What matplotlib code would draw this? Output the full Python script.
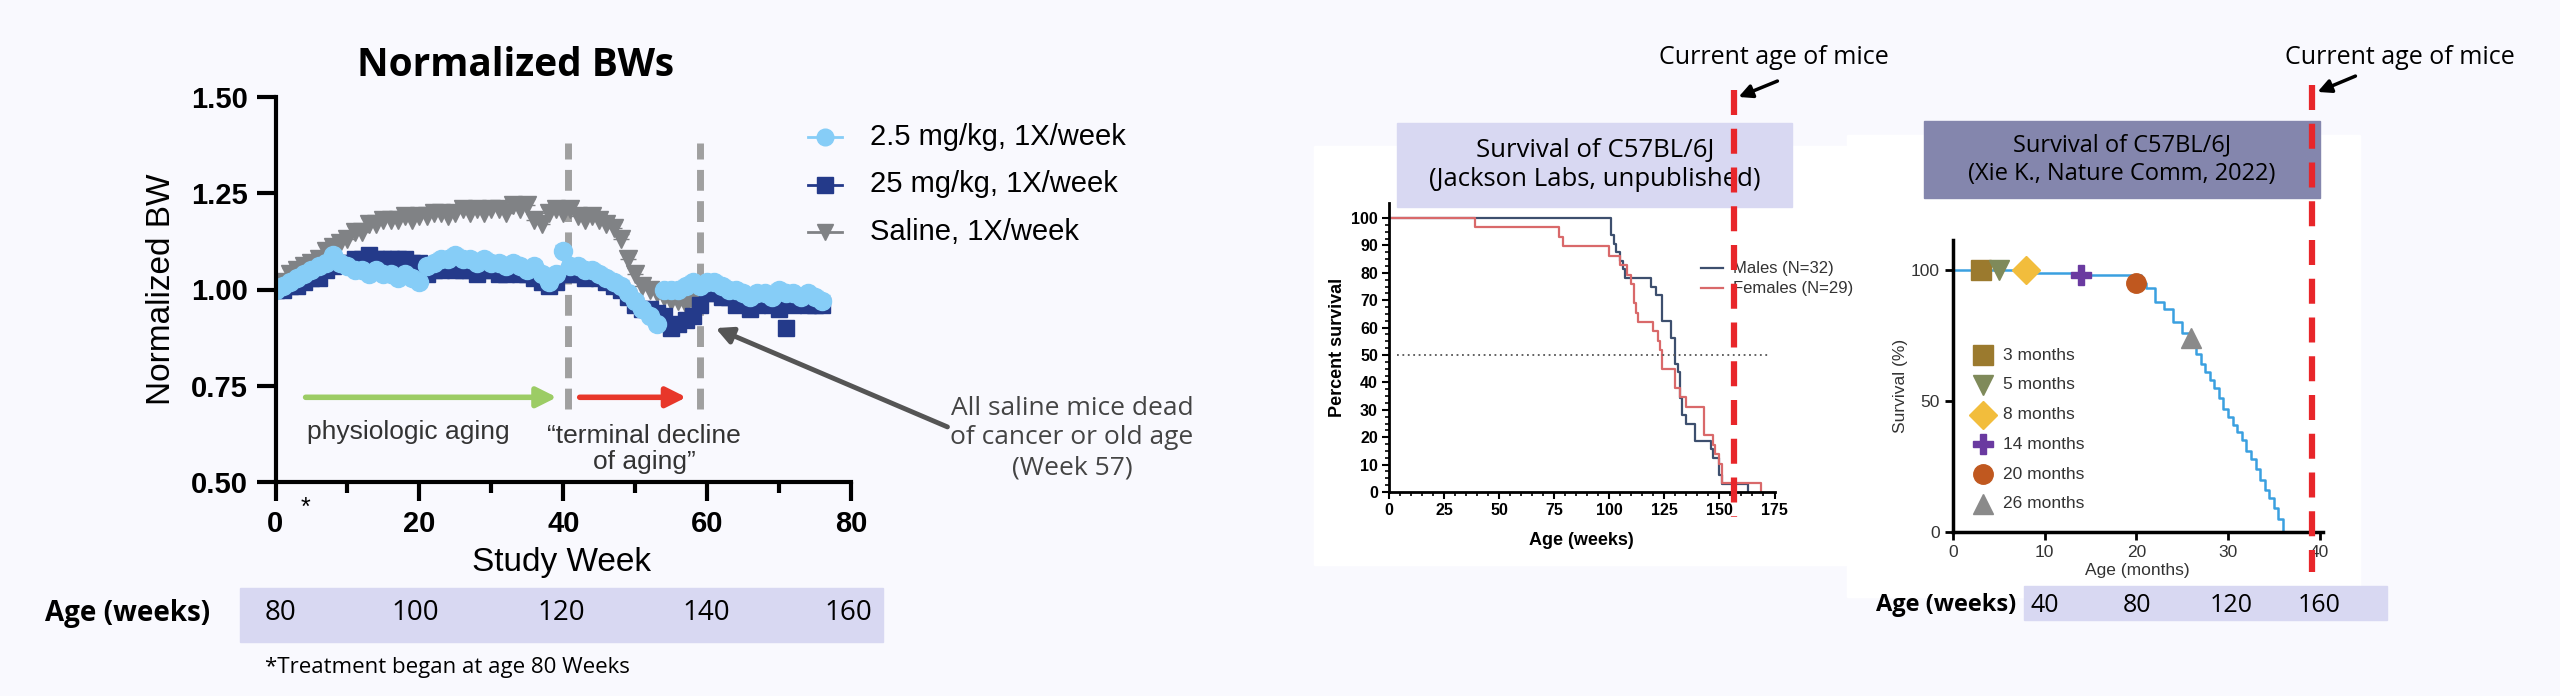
import matplotlib.pyplot as plt
import numpy as np

W, H = 2560, 696
BG = "#f9f9fe"

# ---------------- data: normalized body weights ----------------
weeks_drug = list(range(0, 77))
bw_low = [1.00, 1.01, 1.02, 1.03, 1.04, 1.05, 1.06, 1.07, 1.09, 1.07, 1.06, 1.05, 1.05, 1.04, 1.05, 1.04, 1.04, 1.03, 1.04, 1.03,
          1.02, 1.06, 1.07, 1.08, 1.08, 1.09, 1.08, 1.08, 1.07, 1.08, 1.07, 1.07, 1.06, 1.07, 1.06, 1.05, 1.06, 1.04, 1.02, 1.04,
          1.10, 1.06, 1.06, 1.05, 1.05, 1.04, 1.03, 1.02, 1.01, 0.99, 0.97, 0.95, 0.93, 0.91, 1.00, 1.00, 1.00, 1.01, 1.02, 1.01,
          1.02, 1.02, 1.01, 1.00, 1.00, 0.99, 0.98, 0.99, 0.99, 0.98, 1.00, 0.99, 0.99, 0.98, 0.99, 0.98, 0.97]
bw_high = [1.00, 1.00, 1.01, 1.01, 1.02, 1.03, 1.03, 1.05, 1.06, 1.07, 1.07, 1.08, 1.08, 1.09, 1.08, 1.08, 1.08, 1.08, 1.08, 1.07,
           1.07, 1.04, 1.05, 1.05, 1.06, 1.05, 1.05, 1.05, 1.04, 1.05, 1.05, 1.04, 1.04, 1.05, 1.04, 1.04, 1.03, 1.02, 1.01, 1.02,
           1.04, 1.04, 1.04, 1.03, 1.04, 1.03, 1.02, 1.01, 1.00, 0.98, 0.96, 0.95, 0.95, 0.94, 0.93, 0.90, 0.91, 0.92, 0.93, 0.96,
           0.99, 0.99, 0.98, 0.98, 0.96, 0.97, 0.95, 0.96, 0.97, 0.96, 0.95, 0.90, 0.96, 0.97, 0.96, 0.96, 0.96]
weeks_saline = list(range(0, 59))
bw_saline = [1.00, 1.02, 1.04, 1.05, 1.06, 1.07, 1.08, 1.10, 1.11, 1.12, 1.13, 1.15, 1.15, 1.17, 1.17, 1.18, 1.18, 1.18, 1.19, 1.18,
             1.19, 1.19, 1.20, 1.20, 1.19, 1.20, 1.21, 1.20, 1.21, 1.20, 1.21, 1.21, 1.20, 1.22, 1.21, 1.22, 1.18, 1.17, 1.20, 1.21,
             1.20, 1.21, 1.19, 1.18, 1.19, 1.18, 1.17, 1.16, 1.13, 1.08, 1.04, 1.01, 1.00, 0.99, 0.98, 0.97, 0.97, 0.96, 0.97]
age_ticks = ["80", "100", "120", "140", "160"]

# ---------------- data: Jackson Labs survival ----------------
male_t = [0, 101, 102, 103, 105, 106, 107, 110, 119, 121, 124, 128, 130, 131, 132, 133, 135, 139, 146, 147, 150, 151, 163]
male_s = [100, 93.8, 90.6, 87.5, 84.4, 81.3, 78.1, 78.1, 75.0, 71.9, 62.5, 56.3, 46.9, 43.8, 34.4, 28.1, 25.0, 18.8, 15.6, 12.5, 6.3, 3.1, 0]
female_t = [0, 39, 77, 79, 81, 100, 105, 108, 110, 111, 112, 113, 120, 122, 123, 124, 130, 132, 135, 143, 147, 148, 150, 151, 169]
female_s = [100, 96.6, 93.1, 89.7, 89.7, 86.2, 82.8, 79.3, 75.9, 69.0, 65.5, 62.1, 58.6, 55.2, 51.7, 44.8, 37.9, 34.5, 31.0, 20.7, 17.2, 13.8, 10.3, 3.4, 0]

# ---------------- data: Xie et al. survival ----------------
xie_t = [0, 4, 7, 10, 13, 16, 19, 20.5, 21, 22, 23, 24, 25, 26, 26.5, 27, 27.5, 28, 28.5, 29, 29.5, 30, 30.5, 31, 31.5, 32, 32.5,
         33, 33.5, 34, 34.5, 35, 35.5, 36]
xie_s = [100, 100, 99, 99, 98, 98, 98, 95, 93, 88, 85, 80, 76, 72, 68, 64, 61, 58, 55, 51, 47, 44, 41, 38, 35, 31, 28,
         24, 20, 16, 13, 9, 5, 0]
cohort_labels = ["3 months", "5 months", "8 months", "14 months", "20 months", "26 months"]
cohort_age = [3, 5, 8, 14, 20, 26]
cohort_surv = [100, 100, 100, 98, 95, 74]
cohort_colors = ["#9b7a2e", "#7f8a5a", "#f2bd3c", "#6a3aa0", "#c0581f", "#8a8a8a"]
cohort_markers = ["s", "v", "D", "P", "o", "^"]
xie_age_ticks = ["40", "80", "120", "160"]


def fx(x):
    return x / W


def fy(y):
    return 1 - y / H


def box(x0, y0, x1, y1):
    return [fx(x0), fy(y1), fx(x1) - fx(x0), fy(y0) - fy(y1)]


def rect(x0, y0, x1, y1, color, z):
    fig.patches.append(plt.Rectangle((fx(x0), fy(y1)), fx(x1) - fx(x0), fy(y0) - fy(y1),
                                     transform=fig.transFigure, color=color, zorder=z))


fig = plt.figure(figsize=(W / 100, H / 100), dpi=100, facecolor=BG)
plt.rcParams["font.family"] = ["Liberation Sans", "DejaVu Sans"]
COND = ["Open Sans", "DejaVu Sans"]

# ================= left: normalized BW =================
ax = fig.add_axes(box(275.5, 97, 851, 482))
ax.set_zorder(2)
ax.set_facecolor("none")
ax.set_xlim(0, 80)
ax.set_ylim(0.5, 1.5)
err = 0.015
ax.errorbar(weeks_saline, bw_saline, yerr=[np.zeros(len(bw_saline)), np.full(len(bw_saline), err)],
            fmt="v", color="#808285", ms=13, capsize=6, elinewidth=1.5, lw=0)
ax.errorbar(weeks_drug, bw_high, yerr=[np.zeros(len(bw_high)), np.full(len(bw_high), err)],
            fmt="s", color="#243a8a", ms=12, capsize=6, elinewidth=1.5, lw=0)
ax.errorbar(weeks_drug, bw_low, yerr=[np.zeros(len(bw_low)), np.full(len(bw_low), err)],
            fmt="o", color="#86cdf7", ms=13, capsize=6, elinewidth=1.5, lw=0)
for wk in (40.6, 59):
    ax.plot([wk, wk], [0.69, 1.38], ls=(0, (3, 1.5)), color="#a0a0a0", lw=5, clip_on=False)
ax.annotate("", xy=(39.5, 0.72), xytext=(3.8, 0.72),
            arrowprops=dict(arrowstyle="-|>,head_width=0.6,head_length=1.2", color="#9ccc65", lw=4))
ax.annotate("", xy=(57.5, 0.72), xytext=(41.9, 0.72),
            arrowprops=dict(arrowstyle="-|>,head_width=0.6,head_length=1.2", color="#e8372a", lw=4))
ax.set_xticks([0, 20, 40, 60, 80])
ax.set_xticks([10, 30, 50, 70], minor=True)
ax.set_yticks([0.5, 0.75, 1.0, 1.25, 1.5])
ax.set_yticklabels(["0.50", "0.75", "1.00", "1.25", "1.50"])
for sp in ("top", "right"):
    ax.spines[sp].set_visible(False)
for sp in ("left", "bottom"):
    ax.spines[sp].set_linewidth(3)
ax.tick_params(width=3, length=14, labelsize=21, pad=6)
ax.tick_params(which="minor", width=3, length=8)
for lbl in ax.get_xticklabels() + ax.get_yticklabels():
    lbl.set_fontweight("bold")
ax.set_ylabel("Normalized BW", fontsize=24, labelpad=10)
fig.text(fx(305), fy(515), "*", fontsize=18, ha="center")
fig.text(fx(516), fy(65), "Normalized BWs", fontsize=28, fontweight="bold", family=COND, ha="center", va="center")
fig.text(fx(561), fy(563), "Study Week", fontsize=24, ha="center", va="center")
fig.text(fx(408), fy(432), "physiologic aging", fontsize=19, color="#333333", ha="center", va="center")
fig.text(fx(644), fy(449), "\u201cterminal decline\nof aging\u201d", fontsize=19, color="#333333",
         ha="center", va="center", linespacing=1.1)
fig.text(fx(1072), fy(438), "All saline mice dead\nof cancer or old age\n(Week 57)", fontsize=19, color="#444444",
         family=COND, ha="center", va="center", linespacing=1.25)
fig.add_artist(plt.Annotation("", xy=(fx(713), fy(327)), xytext=(fx(950), fy(428)), xycoords="figure fraction",
                              arrowprops=dict(arrowstyle="-|>,head_width=0.5,head_length=1.0", color="#555555", lw=3.5)))

# legend
leg_rows = [("2.5 mg/kg, 1X/week", "o", "#86cdf7"), ("25 mg/kg, 1X/week", "s", "#243a8a"),
            ("Saline, 1X/week", "v", "#808285")]
for i, (lab, mk, col) in enumerate(leg_rows):
    yy = fy(137 + i * 47.5)
    fig.add_artist(plt.Line2D([fx(808), fx(842)], [yy, yy], color=col, lw=2))
    fig.add_artist(plt.Line2D([fx(825)], [yy], color=col, marker=mk, ms=12, lw=0))
    fig.text(fx(870), yy, lab, fontsize=21, va="center")

# age band
rect(240, 588, 883, 642, "#d8d8f2", -1)
fig.text(fx(128), fy(613), "Age (weeks)", fontsize=20, fontweight="bold", family=COND, ha="center", va="center")
for lab, xx in zip(age_ticks, [281, 415, 561, 706, 848]):
    fig.text(fx(xx), fy(613), lab, fontsize=20, family=COND, ha="center", va="center")
fig.text(fx(265), fy(668), "*Treatment began at age 80 Weeks", fontsize=16, family=COND, va="center")

# ================= middle: Jackson Labs =================
rect(1314, 146, 1847, 565, "white", -1)
ax2 = fig.add_axes(box(1389, 203, 1774.5, 492))
ax2.set_zorder(2)
ax2.set_facecolor("none")
ax2.set_xlim(0, 175)
ax2.set_ylim(0, 105.5)
ax2.step(male_t, male_s, where="post", color="#3d4f6e", lw=1.6, label="Males (N=32)")
ax2.step(female_t, female_s, where="post", color="#d9696a", lw=1.6, label="Females (N=29)")
ax2.axhline(50, xmin=0.02, xmax=172 / 175, color="#555555", ls=(0, (1, 2)), lw=1.3)
ax2.set_xticks([0, 25, 50, 75, 100, 125, 150, 175])
ax2.set_xticks(np.arange(0, 176, 5), minor=True)
ax2.set_yticks(np.arange(0, 101, 10))
ax2.set_yticks(np.arange(0, 101, 2.5), minor=True)
for sp in ("top", "right"):
    ax2.spines[sp].set_visible(False)
for sp in ("left", "bottom"):
    ax2.spines[sp].set_linewidth(2)
ax2.tick_params(width=1.5, length=5, labelsize=11.5, pad=3)
ax2.tick_params(which="minor", width=1.2, length=3)
for lbl in ax2.get_xticklabels() + ax2.get_yticklabels():
    lbl.set_fontweight("bold")
ax2.set_xlabel("Age (weeks)", fontsize=13, fontweight="bold", labelpad=10)
ax2.set_ylabel("Percent survival", fontsize=13, fontweight="bold", labelpad=4)
ax2.legend(loc="upper left", bbox_to_anchor=(0.77, 0.85), frameon=False, fontsize=12, handlelength=1.3,
           handletextpad=0.6, labelspacing=0.3, labelcolor="#333333")
rect(1397, 123, 1792, 207, "#d8d8f2", 3)
fig.text(fx(1595), fy(165), "Survival of C57BL/6J\n(Jackson Labs, unpublished)", fontsize=18.5, family=COND,
         ha="center", va="center", linespacing=1.25, zorder=4)
fig.add_artist(plt.Line2D([fx(1734), fx(1734)], [fy(90), fy(517)], color="#e8262a", lw=4.5, ls=(0, (4, 2.2)), zorder=5))
fig.text(fx(1774), fy(58), "Current age of mice", fontsize=18, family=COND, ha="center", va="center")
fig.add_artist(plt.Annotation("", xy=(fx(1736), fy(98)), xytext=(fx(1780), fy(80)), xycoords="figure fraction",
                              arrowprops=dict(arrowstyle="-|>,head_width=0.4,head_length=0.8", color="black", lw=2.5)))

# ================= right: Xie et al. =================
rect(1847, 135, 2360, 597, "white", -1)
ax3 = fig.add_axes(box(1953, 240, 2322.5, 532))
ax3.set_zorder(2)
ax3.set_facecolor("none")
ax3.set_xlim(0, 40.3)
ax3.set_ylim(0, 111.5)
ax3.step(xie_t, xie_s, where="post", color="#3aa0e0", lw=1.8)
for a, s, c, m in zip(cohort_age, cohort_surv, cohort_colors, cohort_markers):
    ax3.plot(a, s, marker=m, color=c, ms=14, lw=0, clip_on=False, zorder=4)
ax3.set_xticks([0, 10, 20, 30, 40])
ax3.set_yticks([0, 50, 100])
for sp in ("top", "right"):
    ax3.spines[sp].set_visible(False)
for sp in ("left", "bottom"):
    ax3.spines[sp].set_linewidth(2.5)
ax3.tick_params(width=2, length=6, labelsize=12.5, labelcolor="#333333")
ax3.set_xlabel("Age (months)", fontsize=12.5, color="#333333", labelpad=2)
ax3.set_ylabel("Survival (%)", fontsize=12.5, color="#333333", labelpad=2)
for i, (lab, c, m) in enumerate(zip(cohort_labels, cohort_colors, cohort_markers)):
    yy = fy(355 + i * 29.8)
    fig.add_artist(plt.Line2D([fx(1983)], [yy], marker=m, color=c, ms=14, lw=0))
    fig.text(fx(2003), yy, lab, fontsize=12.5, color="#333333", va="center")
rect(1924, 121, 2320, 198, "#8486ad", 3)
fig.text(fx(2122), fy(160), "Survival of C57BL/6J\n(Xie K., Nature Comm, 2022)", fontsize=17, family=COND,
         ha="center", va="center", linespacing=1.25, zorder=4)
fig.add_artist(plt.Line2D([fx(2312), fx(2312)], [fy(85), fy(572)], color="#e8262a", lw=4.5, ls=(0, (4, 2.2)), zorder=5))
fig.text(fx(2400), fy(58), "Current age of mice", fontsize=18, family=COND, ha="center", va="center")
fig.add_artist(plt.Annotation("", xy=(fx(2315), fy(93)), xytext=(fx(2358), fy(75)), xycoords="figure fraction",
                              arrowprops=dict(arrowstyle="-|>,head_width=0.4,head_length=0.8", color="black", lw=2.5)))
rect(2024, 586, 2387, 620, "#d8d8f2", -1)
fig.text(fx(2016), fy(605), "Age (weeks)", fontsize=17, fontweight="bold", family=COND, ha="right", va="center")
for lab, xx in zip(xie_age_ticks, [2045, 2137, 2231, 2319]):
    fig.text(fx(xx), fy(605), lab, fontsize=18, family=COND, ha="center", va="center")

fig.savefig("out.png", dpi=100, facecolor=BG)
